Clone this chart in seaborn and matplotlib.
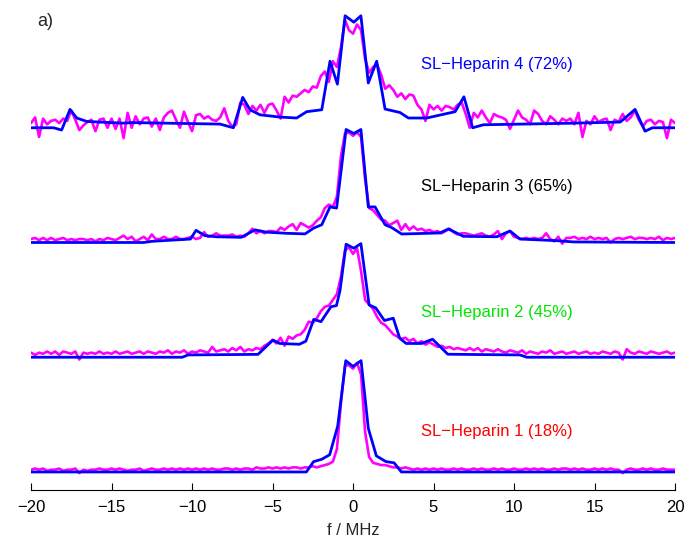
import numpy as np
import pandas as pd
import matplotlib
matplotlib.use('Agg')
import matplotlib.pyplot as plt
import seaborn as sns

# frequency grid of the measured spectra (MHz)
freq = np.arange(-20, 20.001, 0.25)

# measured spectra, intensity in % of the central line
exp_18 = [2, 3, 2, 3, 1, 2, 2, 3, 1, 2, 2, 3, -1, 2, 1, 2, 2, 3, 2, 2,
          3, 2, 3, 2, 1, 2, 2, 3, 1, 2, 3, 2, 2, 3, 2, 3, 2, 3, 2, 3,
          2, 3, 2, 3, 2, 3, 2, 2, 3, 3, 2, 3, 2, 3, 3, 2, 4, 3, 3, 4,
          3, 4, 3, 4, 3, 4, 4, 3, 4, 4, 5, 4, 5, 6, 7, 9, 20, 60, 93, 93,
          90, 95, 85, 35, 13, 8, 7, 6, 6, 5, 4, 4, 3, 4, 3, 2, 3, 2, 3, 2,
          3, 2, 3, 2, 2, 3, 2, 3, 2, 2, 3, 2, 3, 2, 2, 3, 2, 3, 2, 2,
          3, 2, 2, 3, 2, 3, 2, 3, 2, 2, 3, 2, 3, 3, 2, 3, 2, 3, 2, 2,
          3, 2, 3, 2, 3, 2, 2, -1, 2, 3, 2, 2, 3, 2, 3, 2, 2, 3, 2, 2,
          2]
exp_45 = [4, 2, 4, 3, 5, 3, 5, 2, 5, 4, 3, 5, -2, 4, 3, 4, 3, 5, 3, 4,
          3, 5, 3, 4, 5, 3, 4, 5, 3, 5, 4, 3, 5, 4, 6, 3, 5, 4, 6, 3,
          5, 4, 6, 5, 4, 9, 5, 6, 7, 5, 8, 6, 9, 5, 7, 6, 8, 7, 10, 12,
          15, 12, 17, 10, 18, 16, 19, 20, 24, 31, 30, 34, 40, 44, 45, 50, 55, 70, 93, 96,
          90, 95, 75, 50, 46, 42, 35, 30, 28, 24, 20, 18, 16, 17, 14, 16, 12, 14, 11, 13,
          11, 9, 10, 8, 9, 7, 8, 7, 6, 8, 6, 8, 5, 7, 6, 5, 7, 5, 4, 6,
          5, 4, 6, 3, 5, 4, 3, 5, 4, 6, 3, 4, 5, 3, 4, 5, 3, 4, 5, 3,
          4, 3, 5, 4, 3, 5, 4, -2, 7, 4, 3, 5, 4, 3, 5, 4, 3, 4, 5, 3,
          4]
exp_65 = [3, 4, 2, 4, 2, 4, 2, 3, 4, 2, 3, 2, 3, 3, 2, 3, 1, 3, 2, 4,
          3, 2, 4, 6, 3, 5, 1, 3, 5, 2, 7, 3, 3, 5, 3, 3, 5, 3, 3, 4,
          5, 3, 4, 9, 5, 6, 8, 6, 6, 6, 7, 5, 6, 5, 8, 12, 8, 10, 8, 10,
          10, 9, 13, 11, 14, 16, 11, 17, 15, 13, 15, 19, 22, 30, 33, 31, 40, 75, 95, 96,
          93, 96, 92, 55, 30, 28, 24, 20, 19, 15, 17, 19, 11, 16, 11, 14, 11, 12, 10, 11,
          9, 10, 8, 10, 12, 9, 7, 8, 8, 7, 6, 7, 8, 6, 5, 7, 10, 3, 8, 10,
          5, 4, 3, 4, 3, 4, 3, 4, 8, 3, 1, 5, -1, 4, 4, 5, 3, 4, 3, 5,
          3, 4, 3, 4, 0, 3, 4, 3, 4, 5, 3, 4, 4, 3, 4, 3, 5, 2, 4, 3,
          4]
exp_72 = [4, 9, -8, 8, 3, 6, 7, 4, 8, 6, 15, 7, -2, 2, 5, 7, -3, 7, 8, 0,
          8, -1, 8, -9, 13, 0, 10, 3, 8, 9, 1, 8, -2, 9, 13, 15, 7, 0, 14, 5,
          -3, 11, 12, 8, 10, 7, 6, 9, 17, 6, 1, 3, 22, 20, 12, 19, 15, 20, 13, 20,
          21, 15, 8, 27, 22, 28, 27, 30, 33, 31, 36, 35, 45, 49, 40, 58, 53, 70, 94, 85,
          82, 90, 85, 60, 48, 53, 55, 46, 34, 37, 33, 27, 30, 25, 29, 28, 20, 16, 6, 20,
          16, 19, 15, 19, 18, 16, 20, 22, 12, 0, 13, 9, 15, 9, 4, 12, 10, 9, 7, -1,
          7, 15, 9, 7, 3, 15, 12, 6, 3, 10, 7, 3, 8, 6, 8, 3, 13, -8, 6, 3,
          10, 5, 7, 8, -2, 7, 5, 12, 6, 9, 15, 7, 1, 6, 7, 3, 6, 5, -9, 7,
          4]

# simulated spectra (frequency in MHz, intensity in %)
sim_18_f = [-20, -2.9, -2.45, -1.95, -1.45, -0.95, -0.45, 0.0, 0.5, 0.95, 1.45, 2.05, 2.55, 3.0, 20]
sim_18_i = [0, 0, 9, 11, 15, 40, 97, 92, 97, 38, 14, 9, 8, 0, 0]
sim_45_f = [-20, -10.6, -10.25, -5.9, -4.97, -4.56, -3.33, -2.93, -2.44, -1.99, -1.37, -1.03, -0.81, -0.43,
            0.05, 0.49, 1.0, 1.41, 1.95, 2.5, 2.9, 3.3, 4.26, 4.94, 5.89, 10.37, 10.8, 20]
sim_45_i = [0, 0, 2, 2.5, 15, 12, 11.3, 14, 33, 31, 44, 45, 58, 98.5,
            95, 99, 45.6, 43, 32, 34, 16.6, 12, 12, 15.7, 2.6, 2, 0, 0]
sim_65_f = [-20, -13.0, -12.5, -10.1, -9.75, -9.2, -8.5, -6.95, -6.09, -5.37, -4.1, -2.98, -2.45, -1.94,
            -1.43, -1.02, -0.43, 0.05, 0.49, 0.95, 1.37, 1.99, 2.4, 3.02, 5.4, 5.92, 6.33, 6.85,
            8.93, 9.75, 10.37, 12.65, 13.7, 20]
sim_65_i = [0, 0, 1, 3, 10.6, 6, 5, 4.5, 11, 9, 8, 7.5, 12.5, 15.5,
            31, 30, 98.5, 95, 98.5, 31, 31, 15.5, 13, 7.4, 8.3, 11.8, 9, 5.4,
            5, 10, 3, 1.6, 0.5, 0]
sim_72_f = [-20, -18.6, -18.1, -17.58, -17.16, -16.54, -14.3, -13.7, -8.26, -7.43, -6.85, -6.4, -5.78,
            -4.53, -3.5, -2.88, -1.94, -1.43, -0.97, -0.49, 0.05, 0.49, 0.95, 1.47, 1.99, 2.92, 3.44,
            4.58, 6.34, 6.89, 7.43, 8.1, 13.7, 16.6, 17.52, 18.14, 18.6, 20]
sim_72_i = [0, 0, -2, 16, 8.5, 5.5, 4, 4.5, 3.2, 0, 26.5, 15.7, 11.3,
            9.3, 8.5, 14, 15.7, 58, 38, 97.6, 92, 97.6, 39, 58, 16.3, 13.3, 8.5,
            8.5, 14, 27, 0, 2.6, 4, 5, 16, -3, 0, 0]

labels = ['SL\u2212Heparin 1 (18%)', 'SL\u2212Heparin 2 (45%)',
          'SL\u2212Heparin 3 (65%)', 'SL\u2212Heparin 4 (72%)']
label_colors = ['#ff0000', '#00e600', '#000000', '#0000ff']

exp_all = [exp_18, exp_45, exp_65, exp_72]
sim_all = [(sim_18_f, sim_18_i), (sim_45_f, sim_45_i), (sim_65_f, sim_65_i), (sim_72_f, sim_72_i)]
label_dy = [35, 38.6, 48.5, 55.5]

sns.set_style('ticks')
plt.rcParams['font.family'] = ['Liberation Sans', 'DejaVu Sans']

fig = plt.figure(figsize=(6.85, 5.4), dpi=100)
ax = fig.add_axes([0.0453, 0.092, 0.9401, 0.886])

for k in range(4):
    off = 100 * k
    df_exp = pd.DataFrame({'f': freq, 'I': np.array(exp_all[k], dtype=float) + off})
    sns.lineplot(data=df_exp, x='f', y='I', color='#ff00ff', linewidth=1.9,
                 estimator=None, ax=ax)
    f_sim, i_sim = sim_all[k]
    df_sim = pd.DataFrame({'f': f_sim, 'I': np.array(i_sim, dtype=float) + off})
    sns.lineplot(data=df_sim, x='f', y='I', color='#0000ff', linewidth=2.0,
                 estimator=None, ax=ax)
    ax.text(4.22, off + label_dy[k], labels[k], color=label_colors[k],
            fontsize=12, va='center', ha='left')

ax.text(-19.6, 393, 'a)', fontsize=13, va='center', ha='left')

ax.set_xlim(-20, 20)
ax.set_ylim(-16, 401)
ax.set_xticks([-20, -15, -10, -5, 0, 5, 10, 15, 20])
ax.set_yticks([])
ax.set_xlabel('f / MHz', fontsize=12, labelpad=6)
ax.set_ylabel('')
for side in ['left', 'top', 'right']:
    ax.spines[side].set_visible(False)
ax.spines['bottom'].set_color('black')
ax.spines['bottom'].set_linewidth(0.8)
ax.tick_params(axis='x', direction='in', length=5, width=0.8, colors='black',
               labelsize=12, pad=7)

plt.savefig('out.png', dpi=100)
